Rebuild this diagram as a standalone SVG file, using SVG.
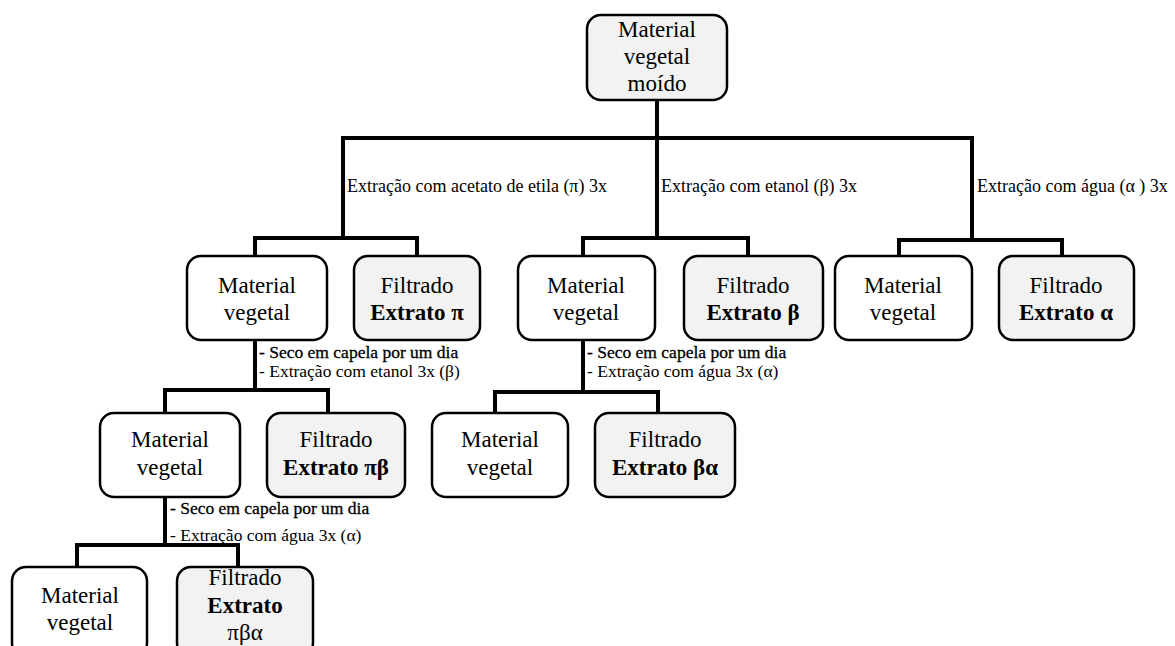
<svg xmlns="http://www.w3.org/2000/svg" width="1175" height="646" viewBox="0 0 1175 646" font-family="Liberation Serif, Times New Roman, serif">
<style>
.box{fill:#ffffff;stroke:#000;stroke-width:2.5}
.gray{fill:#f2f2f2}
.nt{font-size:23px;text-anchor:middle;fill:#000}
.b{font-weight:bold}
.el{font-size:18px;fill:#000}
.sl{font-size:17.5px;fill:#000}
.sb{stroke:#000;stroke-width:0.3}
.conn{fill:none;stroke:#000;stroke-width:4;stroke-linejoin:miter;stroke-linecap:square}
</style>
<rect width="1175" height="646" fill="#ffffff"/>
<g id="connectors">
<path class="conn" d="M657,101 V238"/>
<path class="conn" d="M343,238 V138 H972 V240"/>
<path class="conn" d="M255,254 V238 H417 V254"/>
<path class="conn" d="M583,254 V238 H748 V254"/>
<path class="conn" d="M899,254 V240 H1062 V254"/>
<path class="conn" d="M255,341 V390"/>
<path class="conn" d="M165,411 V390 H328 V411"/>
<path class="conn" d="M583,341 V392"/>
<path class="conn" d="M495,412 V392 H658 V412"/>
<path class="conn" d="M165,498 V545"/>
<path class="conn" d="M77,566 V545 H238 V566"/>
</g>
<g id="edge-labels" font-family="Liberation Serif, Times New Roman, serif">
<text class="el" x="347" y="192">Extração  com acetato  de etila (π) 3x</text>
<text class="el" x="661" y="192">Extração  com etanol (β) 3x</text>
<text class="el" x="977" y="192">Extração  com água  (α ) 3x</text>
<text class="sl sb" x="259" y="358">- Seco em capela por um dia</text>
<text class="sl" x="259" y="377">- Extração  com etanol 3x (β)</text>
<text class="sl sb" x="587" y="358">- Seco em capela por um dia</text>
<text class="sl" x="587" y="377">- Extração  com água 3x (α)</text>
<text class="sl sb" x="170" y="514">- Seco em capela por um dia</text>
<text class="sl" x="170" y="541">- Extração  com água 3x (α)</text>
</g>
<g id="n-root">
<rect class="box gray" x="587" y="15" width="140" height="85" rx="14"/>
<text class="nt" x="657" y="37">Material</text>
<text class="nt" x="657" y="64">vegetal</text>
<text class="nt" x="657" y="91">moído</text>
</g>
<g id="n-mv-pi">
<rect class="box" x="187" y="256" width="140" height="84" rx="14"/>
<text class="nt" x="257" y="293">Material</text>
<text class="nt" x="257" y="320">vegetal</text>
</g>
<g id="n-ext-pi">
<rect class="box gray" x="354" y="256" width="126" height="84" rx="14"/>
<text class="nt" x="417" y="293">Filtrado</text>
<text class="nt b" x="417" y="320">Extrato π</text>
</g>
<g id="n-mv-beta">
<rect class="box" x="518" y="256" width="137" height="84" rx="14"/>
<text class="nt" x="586" y="293">Material</text>
<text class="nt" x="586" y="320">vegetal</text>
</g>
<g id="n-ext-beta">
<rect class="box gray" x="684" y="256" width="139" height="84" rx="14"/>
<text class="nt" x="753" y="293">Filtrado</text>
<text class="nt b" x="753" y="320">Extrato β</text>
</g>
<g id="n-mv-alpha">
<rect class="box" x="835" y="256" width="137" height="84" rx="14"/>
<text class="nt" x="903" y="293">Material</text>
<text class="nt" x="903" y="320">vegetal</text>
</g>
<g id="n-ext-alpha">
<rect class="box gray" x="999" y="256" width="135" height="84" rx="14"/>
<text class="nt" x="1066" y="293">Filtrado</text>
<text class="nt b" x="1066" y="320">Extrato α</text>
</g>
<g id="n-mv-pibeta">
<rect class="box" x="100" y="413" width="140" height="84" rx="14"/>
<text class="nt" x="170" y="447">Material</text>
<text class="nt" x="170" y="475">vegetal</text>
</g>
<g id="n-ext-pibeta">
<rect class="box gray" x="267" y="413" width="138" height="84" rx="14"/>
<text class="nt" x="336" y="447">Filtrado</text>
<text class="nt b" x="336" y="475">Extrato πβ</text>
</g>
<g id="n-mv-betaalpha">
<rect class="box" x="432" y="413" width="136" height="84" rx="14"/>
<text class="nt" x="500" y="447">Material</text>
<text class="nt" x="500" y="475">vegetal</text>
</g>
<g id="n-ext-betaalpha">
<rect class="box gray" x="595" y="413" width="140" height="84" rx="14"/>
<text class="nt" x="665" y="447">Filtrado</text>
<text class="nt b" x="665" y="475">Extrato βα</text>
</g>
<g id="n-mv-pibetaalpha">
<rect class="box" x="12" y="567" width="135" height="90" rx="14"/>
<text class="nt" x="80" y="603">Material</text>
<text class="nt" x="80" y="630">vegetal</text>
</g>
<g id="n-ext-pibetaalpha">
<rect class="box gray" x="177" y="567" width="136" height="90" rx="14"/>
<text class="nt" x="245" y="585">Filtrado</text>
<text class="nt b" x="245" y="613">Extrato</text>
<text class="nt" x="245" y="640">πβα</text>
</g>
</svg>
